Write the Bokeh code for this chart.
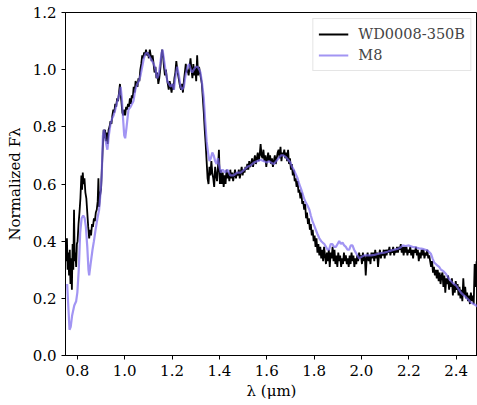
from bokeh.plotting import figure
from bokeh.models import Range1d, FixedTicker, Legend, LegendItem, NumeralTickFormatter
from bokeh.embed import file_html
from bokeh.resources import INLINE

# Observed spectrum WD0008-350B (wavelength um, normalized flux)
wd_wl = [0.750, 0.753, 0.756, 0.759, 0.762, 0.765, 0.768, 0.771, 0.774, 0.777,
         0.780, 0.783, 0.786, 0.789, 0.792, 0.795, 0.798, 0.801, 0.805, 0.809,
         0.813, 0.817, 0.820, 0.823, 0.826, 0.830, 0.834, 0.838, 0.842, 0.846,
         0.850, 0.854, 0.858, 0.862, 0.866, 0.870, 0.874, 0.878, 0.882, 0.886,
         0.889, 0.892, 0.896, 0.900, 0.904, 0.908, 0.911, 0.914, 0.917, 0.920,
         0.924, 0.928, 0.932, 0.936, 0.940, 0.944, 0.948, 0.952, 0.956, 0.960,
         0.964, 0.968, 0.972, 0.976, 0.980, 0.983, 0.986, 0.990, 0.994, 0.998,
         1.002, 1.006, 1.010, 1.014, 1.018, 1.022, 1.026, 1.030, 1.034, 1.038,
         1.042, 1.046, 1.050, 1.054, 1.058, 1.062, 1.066, 1.070, 1.074, 1.078,
         1.082, 1.086, 1.090, 1.094, 1.098, 1.102, 1.106, 1.110, 1.114, 1.118,
         1.122, 1.126, 1.130, 1.134, 1.138, 1.142, 1.146, 1.150, 1.154, 1.158,
         1.162, 1.166, 1.170, 1.174, 1.178, 1.182, 1.186, 1.190, 1.194, 1.198,
         1.202, 1.206, 1.210, 1.214, 1.218, 1.222, 1.226, 1.230, 1.234, 1.238,
         1.242, 1.246, 1.250, 1.254, 1.258, 1.262, 1.266, 1.270, 1.274, 1.278,
         1.282, 1.286, 1.290, 1.294, 1.298, 1.302, 1.306, 1.310, 1.314, 1.318,
         1.322, 1.326, 1.330, 1.334, 1.338, 1.342, 1.346, 1.350, 1.354, 1.358,
         1.362, 1.366, 1.370, 1.374, 1.378, 1.382, 1.386, 1.390, 1.394, 1.398,
         1.402, 1.406, 1.410, 1.414, 1.418, 1.422, 1.426, 1.430, 1.434, 1.438,
         1.442, 1.446, 1.450, 1.454, 1.458, 1.462, 1.466, 1.470, 1.474, 1.478,
         1.482, 1.486, 1.490, 1.494, 1.498, 1.502, 1.506, 1.510, 1.514, 1.518,
         1.522, 1.526, 1.530, 1.534, 1.538, 1.542, 1.546, 1.550, 1.554, 1.558,
         1.562, 1.566, 1.570, 1.574, 1.578, 1.582, 1.586, 1.590, 1.594, 1.598,
         1.602, 1.606, 1.610, 1.614, 1.618, 1.622, 1.626, 1.630, 1.634, 1.638,
         1.642, 1.646, 1.650, 1.654, 1.658, 1.662, 1.666, 1.670, 1.674, 1.678,
         1.682, 1.686, 1.690, 1.694, 1.698, 1.702, 1.706, 1.710, 1.714, 1.718,
         1.722, 1.726, 1.730, 1.734, 1.738, 1.742, 1.746, 1.750, 1.754, 1.758,
         1.762, 1.766, 1.770, 1.774, 1.778, 1.782, 1.786, 1.790, 1.794, 1.798,
         1.802, 1.806, 1.810, 1.814, 1.818, 1.822, 1.826, 1.830, 1.834, 1.838,
         1.842, 1.846, 1.850, 1.854, 1.858, 1.862, 1.866, 1.870, 1.874, 1.878,
         1.882, 1.886, 1.890, 1.894, 1.898, 1.902, 1.906, 1.910, 1.914, 1.918,
         1.922, 1.926, 1.930, 1.934, 1.938, 1.942, 1.946, 1.950, 1.954, 1.958,
         1.962, 1.966, 1.970, 1.974, 1.978, 1.982, 1.986, 1.990, 1.994, 1.998,
         2.002, 2.006, 2.010, 2.014, 2.018, 2.022, 2.026, 2.030, 2.034, 2.038,
         2.042, 2.046, 2.050, 2.054, 2.058, 2.062, 2.066, 2.070, 2.074, 2.078,
         2.082, 2.086, 2.090, 2.094, 2.098, 2.102, 2.106, 2.110, 2.114, 2.118,
         2.122, 2.126, 2.130, 2.134, 2.138, 2.142, 2.146, 2.150, 2.154, 2.158,
         2.162, 2.166, 2.170, 2.174, 2.178, 2.182, 2.186, 2.190, 2.194, 2.198,
         2.202, 2.206, 2.210, 2.214, 2.218, 2.222, 2.226, 2.230, 2.234, 2.238,
         2.242, 2.246, 2.250, 2.254, 2.258, 2.262, 2.266, 2.270, 2.274, 2.278,
         2.282, 2.286, 2.290, 2.294, 2.298, 2.302, 2.306, 2.310, 2.314, 2.318,
         2.322, 2.326, 2.330, 2.334, 2.338, 2.342, 2.346, 2.350, 2.354, 2.358,
         2.362, 2.366, 2.370, 2.374, 2.378, 2.382, 2.386, 2.390, 2.394, 2.398,
         2.402, 2.406, 2.410, 2.414, 2.418, 2.422, 2.426, 2.430, 2.434, 2.438,
         2.442, 2.446, 2.450, 2.454, 2.458, 2.462, 2.466, 2.470, 2.474, 2.478,
         2.482, 2.486, 2.490]
wd_flux = [0.39, 0.33, 0.41, 0.30, 0.36, 0.28, 0.37, 0.25, 0.34, 0.23,
           0.39, 0.30, 0.51, 0.33, 0.36, 0.31, 0.39, 0.40, 0.46, 0.50,
           0.55, 0.63, 0.58, 0.64, 0.60, 0.62, 0.57, 0.55, 0.50, 0.45,
           0.41, 0.44, 0.42, 0.46, 0.45, 0.48, 0.47, 0.50, 0.51, 0.54,
           0.62, 0.52, 0.56, 0.58, 0.66, 0.74, 0.79, 0.76, 0.79, 0.75,
           0.78, 0.74, 0.79, 0.80, 0.82, 0.81, 0.84, 0.86, 0.85, 0.88,
           0.87, 0.90, 0.89, 0.92, 0.95, 0.91, 0.89, 0.85, 0.84, 0.86,
           0.84, 0.87, 0.86, 0.88, 0.87, 0.90, 0.88, 0.91, 0.90, 0.94,
           0.92, 0.96, 0.95, 0.94, 0.97, 0.96, 1.00, 1.02, 1.05, 1.04,
           1.06, 1.05, 1.07, 1.05, 1.06, 1.04, 1.07, 1.05, 1.03, 1.05,
           1.02, 0.99, 1.01, 0.97, 0.99, 0.95, 0.97, 1.00, 1.04, 1.07,
           1.05, 1.01, 0.98, 1.00, 0.97, 0.95, 0.93, 0.96, 0.94, 0.92,
           0.95, 0.93, 0.97, 0.99, 1.03, 1.00, 0.98, 0.96, 0.94, 0.93,
           0.95, 0.92, 0.96, 0.99, 1.02, 0.99, 1.00, 0.98, 1.01, 1.04,
           1.00, 0.97, 1.02, 0.98, 1.01, 0.96, 1.05, 0.98, 1.01, 0.99,
           0.97, 0.95, 0.90, 0.85, 0.79, 0.74, 0.68, 0.62, 0.60, 0.66,
           0.63, 0.68, 0.64, 0.62, 0.59, 0.66, 0.63, 0.61, 0.66, 0.72,
           0.60, 0.65, 0.60, 0.64, 0.59, 0.63, 0.60, 0.65, 0.62, 0.64,
           0.61, 0.65, 0.62, 0.64, 0.61, 0.63, 0.65, 0.62, 0.64, 0.63,
           0.65, 0.62, 0.64, 0.66, 0.63, 0.65, 0.64, 0.66, 0.65, 0.67,
           0.65, 0.68, 0.66, 0.67, 0.69, 0.66, 0.68, 0.70, 0.67, 0.69,
           0.71, 0.68, 0.70, 0.74, 0.70, 0.69, 0.72, 0.68, 0.70, 0.66,
           0.69, 0.71, 0.68, 0.70, 0.67, 0.69, 0.66, 0.68, 0.70, 0.67,
           0.69, 0.71, 0.72, 0.69, 0.73, 0.68, 0.71, 0.70, 0.72, 0.69,
           0.71, 0.68, 0.72, 0.67, 0.69, 0.65, 0.67, 0.63, 0.65, 0.61,
           0.62, 0.59, 0.61, 0.57, 0.58, 0.55, 0.57, 0.53, 0.54, 0.51,
           0.53, 0.48, 0.50, 0.46, 0.48, 0.44, 0.46, 0.42, 0.44, 0.40,
           0.42, 0.38, 0.41, 0.36, 0.39, 0.35, 0.38, 0.34, 0.37, 0.33,
           0.38, 0.35, 0.32, 0.36, 0.33, 0.37, 0.31, 0.36, 0.34, 0.38,
           0.33, 0.37, 0.32, 0.35, 0.31, 0.36, 0.33, 0.35, 0.31, 0.34,
           0.32, 0.36, 0.33, 0.35, 0.32, 0.34, 0.31, 0.35, 0.32, 0.36,
           0.33, 0.35, 0.31, 0.34, 0.32, 0.35, 0.33, 0.36, 0.34, 0.35,
           0.32, 0.36, 0.33, 0.35, 0.28, 0.34, 0.36, 0.33, 0.35, 0.32,
           0.36, 0.34, 0.36, 0.33, 0.37, 0.34, 0.36, 0.31, 0.35, 0.37,
           0.34, 0.36, 0.35, 0.37, 0.34, 0.37, 0.35, 0.37, 0.36, 0.38,
           0.35, 0.37, 0.36, 0.38, 0.35, 0.37, 0.36, 0.38, 0.36, 0.38,
           0.37, 0.39, 0.36, 0.38, 0.35, 0.38, 0.36, 0.38, 0.35, 0.37,
           0.36, 0.38, 0.35, 0.37, 0.34, 0.37, 0.36, 0.38, 0.35, 0.37,
           0.33, 0.36, 0.34, 0.37, 0.35, 0.37, 0.34, 0.36, 0.35, 0.37,
           0.34, 0.35, 0.33, 0.31, 0.33, 0.29, 0.31, 0.28, 0.30, 0.27,
           0.30, 0.26, 0.29, 0.25, 0.28, 0.29, 0.24, 0.28, 0.22, 0.27,
           0.25, 0.28, 0.23, 0.26, 0.24, 0.27, 0.21, 0.25, 0.22, 0.26,
           0.23, 0.25, 0.21, 0.24, 0.20, 0.23, 0.19, 0.27, 0.21, 0.24,
           0.20, 0.22, 0.19, 0.21, 0.18, 0.22, 0.19, 0.21, 0.18, 0.32,
           0.24, 0.33, 0.26]

# M8 template spectrum
m8_wl = [0.757, 0.762, 0.767, 0.772, 0.778, 0.787, 0.795, 0.800, 0.806, 0.812,
         0.818, 0.825, 0.831, 0.836, 0.842, 0.847, 0.850, 0.856, 0.864, 0.870,
         0.877, 0.885, 0.892, 0.898, 0.903, 0.908, 0.913, 0.918, 0.922, 0.927,
         0.933, 0.940, 0.947, 0.953, 0.960, 0.969, 0.976, 0.983, 0.988, 0.993,
         0.998, 1.002, 1.008, 1.016, 1.025, 1.037, 1.045, 1.053, 1.060, 1.067,
         1.074, 1.081, 1.088, 1.095, 1.102, 1.109, 1.116, 1.123, 1.130, 1.137,
         1.143, 1.150, 1.156, 1.160, 1.165, 1.172, 1.180, 1.187, 1.194, 1.201,
         1.208, 1.215, 1.222, 1.229, 1.236, 1.243, 1.250, 1.257, 1.265, 1.272,
         1.279, 1.285, 1.292, 1.300, 1.308, 1.315, 1.320, 1.327, 1.334, 1.340,
         1.346, 1.352, 1.358, 1.364, 1.370, 1.376, 1.382, 1.388, 1.394, 1.400,
         1.406, 1.414, 1.424, 1.434, 1.446, 1.460, 1.475, 1.490, 1.505, 1.518,
         1.532, 1.546, 1.560, 1.574, 1.588, 1.600, 1.610, 1.617, 1.630, 1.640,
         1.650, 1.660, 1.670, 1.680, 1.690, 1.700, 1.707, 1.714, 1.722, 1.730,
         1.737, 1.744, 1.750, 1.757, 1.765, 1.772, 1.780, 1.786, 1.793, 1.800,
         1.807, 1.814, 1.822, 1.830, 1.836, 1.843, 1.850, 1.857, 1.863, 1.870,
         1.877, 1.884, 1.892, 1.899, 1.906, 1.913, 1.920, 1.927, 1.934, 1.941,
         1.948, 1.955, 1.962, 1.969, 1.976, 1.983, 1.990, 2.000, 2.011, 2.025,
         2.040, 2.055, 2.068, 2.082, 2.096, 2.110, 2.124, 2.138, 2.152, 2.165,
         2.174, 2.187, 2.200, 2.215, 2.230, 2.244, 2.258, 2.270, 2.279, 2.286,
         2.293, 2.300, 2.307, 2.314, 2.320, 2.328, 2.336, 2.346, 2.357, 2.368,
         2.378, 2.390, 2.400, 2.410, 2.420, 2.430, 2.440, 2.452, 2.463, 2.474,
         2.484, 2.492]
m8_flux = [0.25, 0.17, 0.09, 0.10, 0.14, 0.175, 0.19, 0.22, 0.30, 0.43,
           0.48, 0.49, 0.48, 0.45, 0.38, 0.30, 0.28, 0.32, 0.37, 0.40,
           0.44, 0.48, 0.51, 0.57, 0.63, 0.77, 0.79, 0.76, 0.74, 0.72,
           0.77, 0.81, 0.83, 0.84, 0.86, 0.89, 0.91, 0.94, 0.90, 0.83,
           0.77, 0.76, 0.80, 0.86, 0.87, 0.89, 0.93, 0.95, 0.96, 0.98,
           1.01, 1.04, 1.055, 1.06, 1.05, 1.04, 1.03, 1.02, 1.00, 0.97,
           0.98, 1.02, 1.06, 1.07, 1.04, 1.00, 0.96, 0.95, 0.94, 0.95,
           0.93, 0.98, 1.01, 0.98, 0.94, 0.93, 0.94, 0.98, 1.01, 1.02,
           1.00, 0.99, 1.00, 1.01, 1.01, 1.00, 0.99, 0.95, 0.90, 0.82,
           0.75, 0.71, 0.68, 0.69, 0.71, 0.70, 0.68, 0.67, 0.69, 0.66,
           0.64, 0.65, 0.64, 0.65, 0.63, 0.63, 0.64, 0.64, 0.65, 0.66,
           0.665, 0.675, 0.68, 0.685, 0.68, 0.675, 0.68, 0.675, 0.67, 0.68,
           0.69, 0.70, 0.70, 0.695, 0.685, 0.675, 0.66, 0.65, 0.635, 0.62,
           0.60, 0.585, 0.57, 0.55, 0.535, 0.525, 0.51, 0.49, 0.47, 0.455,
           0.44, 0.425, 0.41, 0.40, 0.395, 0.39, 0.38, 0.37, 0.37, 0.39,
           0.39, 0.38, 0.38, 0.39, 0.40, 0.39, 0.395, 0.385, 0.38, 0.37,
           0.37, 0.385, 0.385, 0.37, 0.36, 0.35, 0.34, 0.345, 0.35, 0.35,
           0.35, 0.352, 0.355, 0.358, 0.36, 0.363, 0.367, 0.37, 0.373, 0.378,
           0.385, 0.383, 0.385, 0.38, 0.378, 0.375, 0.373, 0.37, 0.367, 0.362,
           0.356, 0.34, 0.325, 0.32, 0.315, 0.31, 0.30, 0.295, 0.285, 0.27,
           0.26, 0.25, 0.245, 0.232, 0.22, 0.212, 0.205, 0.195, 0.185, 0.18,
           0.175, 0.17]

x_ticks = [0.8, 1.0, 1.2, 1.4, 1.6, 1.8, 2.0, 2.2, 2.4]
y_ticks = [0.0, 0.2, 0.4, 0.6, 0.8, 1.0, 1.2]

SERIF = "DejaVu Serif"

p = figure(width=477, height=405, output_backend="svg", toolbar_location=None,
           x_range=Range1d(0.75, 2.49), y_range=Range1d(0.0, 1.2),
           min_border_left=65, min_border_right=0, min_border_top=12, min_border_bottom=50)
p.background_fill_color = "white"
p.border_fill_color = "white"
p.outline_line_color = "black"
p.outline_line_width = 1
p.xgrid.visible = False
p.ygrid.visible = False

r_wd = p.line(wd_wl, wd_flux, line_color="black", line_width=1.8)
r_m8 = p.line(m8_wl, m8_flux, line_color="#7B68EE", line_alpha=0.7, line_width=2.2)

for ax in (p.xaxis[0], p.yaxis[0]):
    ax.axis_line_color = "black"
    ax.major_tick_line_color = "black"
    ax.major_tick_in = 0
    ax.major_tick_out = 4
    ax.minor_tick_line_color = None
    ax.major_label_text_font = SERIF
    ax.major_label_text_font_size = "15px"
    ax.major_label_text_color = "black"
    ax.axis_label_text_font = SERIF
    ax.axis_label_text_font_size = "15px"
    ax.axis_label_text_font_style = "normal"
    ax.axis_label_text_color = "black"

p.xaxis.ticker = FixedTicker(ticks=x_ticks)
p.yaxis.ticker = FixedTicker(ticks=y_ticks)
p.xaxis.formatter = NumeralTickFormatter(format="0.0")
p.yaxis.formatter = NumeralTickFormatter(format="0.0")
p.xaxis.axis_label = "λ (μm)"
p.yaxis.axis_label = "Normalized Fλ"
p.xaxis.major_label_standoff = 5
p.yaxis.major_label_standoff = 5
p.xaxis.axis_label_standoff = 3
p.yaxis.axis_label_standoff = 6

legend = Legend(items=[LegendItem(label="WD0008-350B", renderers=[r_wd]),
                       LegendItem(label="M8", renderers=[r_m8])],
                location="top_right")
legend.label_text_font = SERIF
legend.label_text_font_size = "14.5px"
legend.border_line_color = "#cccccc"
legend.border_line_width = 1
legend.background_fill_alpha = 0.8
legend.padding = 5
legend.margin = 6
legend.spacing = 1
legend.glyph_width = 30
legend.label_standoff = 10
legend.label_height = 20
p.add_layout(legend)

open("out.html", "w").write(file_html(p, INLINE))
